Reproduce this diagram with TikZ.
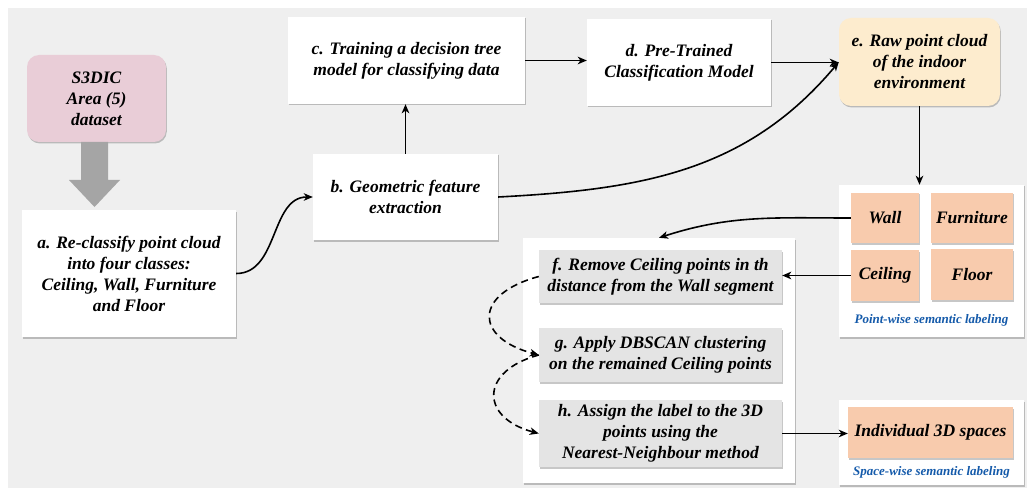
\documentclass[tikz,border=0pt]{standalone}
\usepackage{fontspec}
\setmainfont{Liberation Serif}
\usetikzlibrary{arrows.meta,shadows,calc}
\definecolor{bgc}{RGB}{239,239,239}
\definecolor{pinkc}{RGB}{233,205,215}
\definecolor{yelc}{RGB}{253,236,206}
\definecolor{orc}{RGB}{248,203,173}
\definecolor{grayc}{RGB}{228,228,228}
\definecolor{bluec}{RGB}{20,90,170}
\definecolor{blockc}{RGB}{165,165,165}
\tikzset{
  txt/.style={font=\fontsize{17.5}{21}\selectfont\bfseries\itshape, align=center, inner sep=1pt},
  shad/.style={drop shadow={shadow xshift=0.8pt,shadow yshift=-1.5pt,fill=black,opacity=0.22}},
  wbox/.style={txt, fill=white, shad},
  panel/.style={fill=white, shad},
  rbox/.style={txt, rounded corners=12pt, shad},
  obox/.style={txt, fill=orc, shad},
  gbox/.style={txt, fill=grayc, shad},
  lab/.style={font=\fontsize{13}{15}\selectfont\bfseries\itshape, text=bluec, inner sep=0pt},
  arr/.style={line width=1.6pt, -{Stealth[length=9pt,width=7.5pt,inset=2.5pt]}},
  darr/.style={arr, dash pattern=on 7pt off 4.5pt},
}
\begin{document}
\begin{tikzpicture}[x=1pt,y=1pt]
\useasboundingbox (0,0) rectangle (1027,488);
\fill[bgc] (8,0) rectangle (1027,480);

% top-left
\node[rbox, fill=pinkc, minimum width=139, minimum height=87] (s3) at (96.5,389.5) {S3DIC\\Area (5)\\dataset};
\fill[blockc] (81,346) -- (108,346) -- (108,308) -- (120,308) -- (94.5,281) -- (69,308) -- (81,308) -- cycle;
\node[wbox, minimum width=214, minimum height=127] (a) at (129,214.5) {a. Re-classify point cloud\\into four classes:\\Ceiling, Wall, Furniture\\and Floor};
\node[wbox, minimum width=185, minimum height=86] (b) at (405.5,291) {b. Geometric feature\\extraction};
\node[wbox, minimum width=237, minimum height=87] (c) at (406.5,427.5) {c. Training a decision tree\\model for classifying data};
\node[wbox, minimum width=184, minimum height=87] (d) at (679,425.5) {d. Pre-Trained\\Classification Model};
\node[rbox, fill=yelc, minimum width=161, minimum height=88] (e) at (919.5,426) {e. Raw point cloud\\of the indoor\\environment};

% point-wise panel
\node[panel, minimum width=185, minimum height=152] (pw) at (931.5,227) {};
\node[obox, minimum width=68, minimum height=50] (wall) at (885,270) {Wall};
\node[obox, minimum width=82, minimum height=50] (furn) at (972,270) {Furniture};
\node[obox, minimum width=68, minimum height=51] (ceil) at (885,212.5) {Ceiling};
\node[obox, minimum width=82, minimum height=51] (floor) at (972,213.5) {Floor};
\node[lab] (pwl) at (931.5,168) {Point-wise semantic labeling};

% space-wise panel
\node[panel, minimum width=185, minimum height=85] (sw) at (931.5,45.5) {};
\node[obox, minimum width=165, minimum height=51] (ind) at (930.5,55.5) {Individual 3D spaces};
\node[lab] (swl) at (931.5,16) {Space-wise semantic labeling};

% process panel
\node[panel, minimum width=272, minimum height=245] (proc) at (659,127.5) {};
\node[gbox, minimum width=243, minimum height=53] (f) at (660.5,211.5) {f. Remove Ceiling points in th\\distance from the Wall segment};
\node[gbox, minimum width=243, minimum height=54] (g) at (660.5,133) {g. Apply DBSCAN clustering\\on the remained Ceiling points};
\node[gbox, minimum width=243, minimum height=67] (h) at (660.5,54.5) {h. Assign the label to the 3D\\points using the\\Nearest-Neighbour method};

% connectors
\draw[arr] (a.east) to[out=0,in=180] (b.west);
\draw[arr] (b.north) -- (b.north |- c.south);
\draw[arr] (c.east) -- (c.east -| d.west);
\draw[arr] (d.east) -- (d.east -| e.west);
\draw[arr] (b.east) to[out=3,in=-130] (e.west);
\draw[arr] (e.south) -- (e.south |- pw.north);
\draw[arr] (wall.west) to[out=180,in=18] (proc.north);
\draw[arr] (ceil.west) -- (ceil.west -| f.east);
\draw[arr] (h.east) -- (h.east -| ind.west);
\draw[darr] (f.west) to[out=195,in=165,looseness=2.2] (g.west);
\draw[darr] (g.west) to[out=195,in=165,looseness=2.0] (h.west);
\end{tikzpicture}
\end{document}
